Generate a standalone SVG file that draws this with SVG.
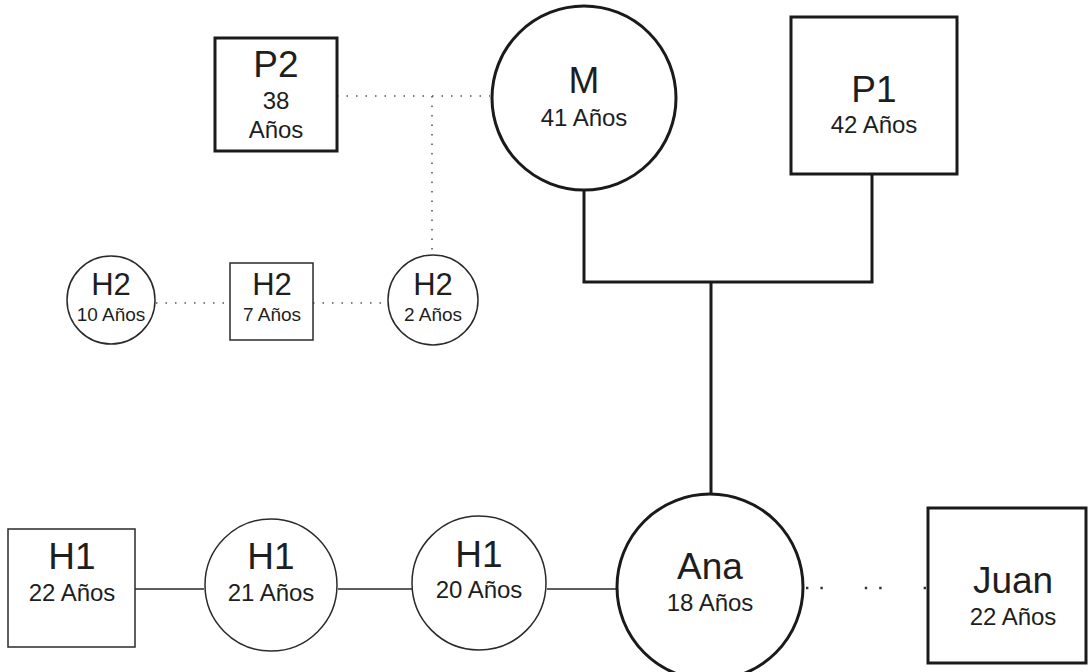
<svg xmlns="http://www.w3.org/2000/svg" width="1089" height="672" viewBox="0 0 1089 672">
<style>
text{font-family:"Liberation Sans",Arial,sans-serif;fill:#1e1e1e;text-anchor:middle}
.thick{fill:#fff;stroke:#1a1a1a;stroke-width:3}
.thin{fill:#fff;stroke:#2a2a2a;stroke-width:1.5}
.line{fill:none;stroke:#1a1a1a;stroke-width:3}
.tline{fill:none;stroke:#2a2a2a;stroke-width:1.5}
.dot{fill:none;stroke:#555;stroke-width:1.6;stroke-dasharray:1.5 8}
.dot2{fill:none;stroke:#333;stroke-width:2.4;stroke-dasharray:2.4 12 2.4 42}
.big{font-size:37px}
.mid{font-size:24px}
.sm{font-size:19px}
.h2{font-size:31px}
</style>
<rect width="1089" height="672" fill="#fff"/>
<g id="connectors">
<path class="line" d="M584 190 V282 H872 V174 M711 282 V493"/>
<path class="dot" d="M337 96 H490 M432 96 V256"/>
<path class="dot" d="M156 303 H230 M313 303 H388"/>
<path class="tline" d="M135 589 H204 M338 589 H412 M547 589 H617"/>
<path class="dot2" d="M806 588 H926"/>
</g>
<g id="P2"><rect class="thick" x="215" y="38" width="122" height="113"/>
<text class="big" x="276" y="77">P2</text><text class="mid" x="276" y="109">38</text><text class="mid" x="276" y="138">Años</text></g>
<g id="M"><circle class="thick" cx="584" cy="98" r="92"/>
<text class="big" x="584" y="93">M</text><text class="mid" x="584" y="126">41 Años</text></g>
<g id="P1"><rect class="thick" x="791" y="17" width="166" height="157"/>
<text class="big" x="874" y="102">P1</text><text class="mid" x="874" y="133">42 Años</text></g>
<g id="H2a"><circle class="thin" cx="111" cy="300" r="44"/>
<text class="h2" x="111" y="295">H2</text><text class="sm" x="111" y="321">10 Años</text></g>
<g id="H2b"><rect class="thin" x="230" y="263" width="83" height="77"/>
<text class="h2" x="272" y="295">H2</text><text class="sm" x="272" y="321">7 Años</text></g>
<g id="H2c"><circle class="thin" cx="433" cy="300" r="45"/>
<text class="h2" x="433" y="295">H2</text><text class="sm" x="433" y="321">2 Años</text></g>
<g id="H1a"><rect class="thin" x="8" y="529" width="127" height="118"/>
<text class="big" x="72" y="569">H1</text><text class="mid" x="72" y="601">22 Años</text></g>
<g id="H1b"><circle class="thin" cx="271" cy="585" r="66"/>
<text class="big" x="271" y="569">H1</text><text class="mid" x="271" y="601">21 Años</text></g>
<g id="H1c"><circle class="thin" cx="479" cy="583" r="67"/>
<text class="big" x="479" y="567">H1</text><text class="mid" x="479" y="598">20 Años</text></g>
<g id="Ana"><circle class="thick" cx="710" cy="587" r="93"/>
<text class="big" x="710" y="579">Ana</text><text class="mid" x="710" y="611">18  Años</text></g>
<g id="Juan"><rect class="thick" x="928" y="508" width="158" height="155"/>
<text class="big" x="1013" y="593">Juan</text><text class="mid" x="1013" y="625">22 Años</text></g>
</svg>
